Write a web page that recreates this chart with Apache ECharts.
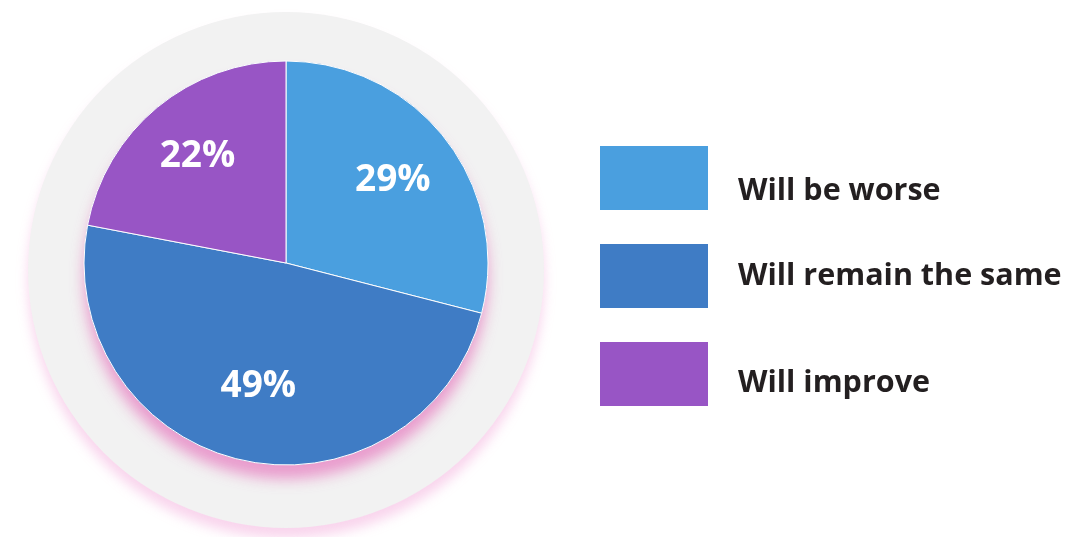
<!DOCTYPE html>
<html>
<head>
<meta charset="utf-8">
<script src="https://cdn.jsdelivr.net/npm/echarts@6/dist/echarts.min.js"></script>
<style>html,body{margin:0;padding:0;background:#fff}#c{width:1066px;height:537px}</style>
</head>
<body>
<div id="c"></div>
<script>
var categories = ['Will be worse', 'Will remain the same', 'Will improve'];
var values = [29, 49, 22];
var colors = ['#4a9fdf', '#3f7cc5', '#9855c5'];
var labelScale = [1.30, 1.22, 1.335];
var legendTextPadTop = [26, 0, 18];

var chart = echarts.init(document.getElementById('c'), null, {renderer: 'canvas'});
var pieCenter = [286, 263];
var rich = {};
categories.forEach(function (n, i) {
  rich['t' + i] = {
    fontFamily: 'Open Sans', fontWeight: 'bold', fontSize: 30.5, color: '#231f20',
    lineHeight: 36, padding: [legendTextPadTop[i], 0, 0, 25]
  };
});
var option = {
  animation: false,
  legend: {
    data: categories,
    orient: 'vertical',
    left: 600,
    top: 146,
    padding: 0,
    itemWidth: 108,
    itemHeight: 64,
    itemGap: 34,
    icon: 'rect',
    selectedMode: false,
    itemStyle: {borderWidth: 0},
    formatter: function (name) {
      return '{t' + categories.indexOf(name) + '|' + name + '}';
    },
    textStyle: {
      fontFamily: 'Open Sans',
      fontWeight: 'bold',
      fontSize: 30.5,
      color: '#231f20',
      rich: rich
    }
  },
  series: [
    {
      type: 'pie', silent: true, center: [286, 270], radius: 258,
      label: {show: false}, labelLine: {show: false},
      itemStyle: {color: '#f2f2f2', shadowBlur: 12, shadowOffsetY: 10, shadowColor: 'rgba(240,150,210,0.4)'},
      data: [{name: 'bg', value: 1}], z: 1
    },
    {
      type: 'pie', silent: true, center: pieCenter, radius: 202,
      label: {show: false}, labelLine: {show: false},
      itemStyle: {color: '#3f7cc5', shadowBlur: 14, shadowOffsetY: 14, shadowColor: 'rgba(230,120,190,0.7)'},
      data: [{name: 'shadow', value: 1}], z: 2
    },
    {
      type: 'pie', center: pieCenter, radius: 202, startAngle: 90, clockwise: true,
      z: 3,
      itemStyle: {borderColor: '#ffffff', borderWidth: 1},
      label: {
        show: true, position: 'inside',
        formatter: '{c}%',
        fontFamily: 'Open Sans', fontWeight: 'bold', fontSize: 37, color: '#ffffff'
      },
      labelLayout: function (p) {
        var k = labelScale[p.dataIndex];
        var lx = p.labelRect.x + p.labelRect.width / 2;
        var ly = p.labelRect.y + p.labelRect.height / 2;
        return {x: pieCenter[0] + (lx - pieCenter[0]) * k, y: pieCenter[1] + (ly - pieCenter[1]) * k};
      },
      data: categories.map(function (n, i) {
        return {name: n, value: values[i], itemStyle: {color: colors[i]}};
      })
    }
  ]
};
chart.setOption(option);
</script>
</body>
</html>
